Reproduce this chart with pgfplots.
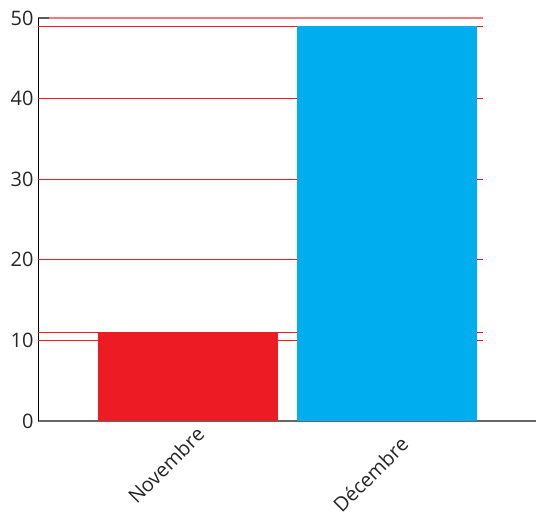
\documentclass[border=0pt]{standalone}
\usepackage{pgfplots}
\pgfplotsset{compat=1.18}
\usepackage{fontspec}
\setmainfont{Open Sans}
\definecolor{barred}{RGB}{237,28,36}
\definecolor{barblue}{RGB}{0,174,239}
\definecolor{gridred}{RGB}{237,28,36}
\begin{document}
\begin{tikzpicture}
\begin{axis}[
  at={(38bp,-421bp)}, anchor=south west,
  scale only axis, width=498bp, height=403bp,
  xmin=-0.754, xmax=1.749, ymin=0, ymax=50,
  axis x line*=bottom, axis y line*=left,
  axis line style={-},
  x axis line style={draw=black!60, line width=1.3bp},
  y axis line style={draw=black, line width=1bp},
  xtick={0}, xticklabels={Novembre},
  extra x ticks={1}, extra x tick labels={Décembre},
  extra x tick style={major x tick style={draw=none}, xticklabel style={xshift=-3.5bp, yshift=-10.6bp}},
  major x tick style={draw=none},
  ytick={0,10,20,30,40,50},
  tick align=inside, major tick length=12bp,
  major y tick style={draw=black!65, line width=1.2bp},
  tick label style={font=\fontsize{20}{24}\selectfont, text=black!85},
  /pgf/number format/assume math mode=true,
  xticklabel style={xshift=7bp, yshift=-4bp, rotate=45, anchor=north east, inner sep=0pt},
  yticklabel style={xshift=-1bp},
  clip=false,
]
% horizontal red reference lines
\addplot[gridred, line width=1bp, forget plot] coordinates {(-0.754,10) (1.482,10)};
\addplot[gridred, line width=1bp, forget plot] coordinates {(-0.754,11) (1.482,11)};
\addplot[gridred, line width=1bp, forget plot] coordinates {(-0.754,20) (1.482,20)};
\addplot[gridred, line width=1bp, forget plot] coordinates {(-0.754,30) (1.482,30)};
\addplot[gridred, line width=1bp, forget plot] coordinates {(-0.754,40) (1.482,40)};
\addplot[gridred, line width=1bp, forget plot] coordinates {(-0.754,49) (1.482,49)};
\addplot[gridred!60, line width=1.5bp, forget plot] coordinates {(-0.70,50) (1.482,50)};
% bars
\addplot[ybar, bar width=180bp, bar shift=0pt, fill=barred, draw=none] coordinates {(0,11)};
\addplot[ybar, bar width=180bp, bar shift=0pt, fill=barblue, draw=none] coordinates {(1,49)};
\end{axis}
\pgfresetboundingbox
\path[use as bounding box] (0,0) rectangle (536bp,-512bp);
\end{tikzpicture}
\end{document}
